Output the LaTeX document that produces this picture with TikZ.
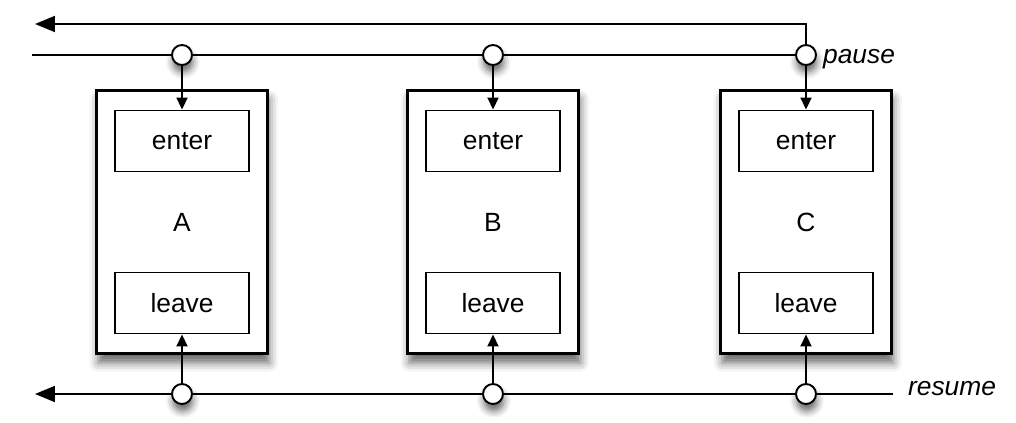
\documentclass[tikz,border=0pt]{standalone}
\usepackage{fontspec}
\setmainfont{Liberation Sans}
\usetikzlibrary{arrows.meta,positioning,backgrounds,shadows.blur}
\tikzset{
  proc/.style={
    rectangle,
    draw=black,
    line width=1.7pt,
    fill=white,
    minimum width=3.42cm,
    minimum height=5.28cm,
    blur shadow={shadow xshift=1pt, shadow yshift=-5pt, shadow blur radius=5pt, shadow opacity=60}
  },
  hook/.style={
    rectangle,
    draw=black,
    line width=1.1pt,
    fill=white,
    minimum width=2.68cm,
    minimum height=1.22cm
  },
  port/.style={
    circle,
    draw=black,
    line width=1.1pt,
    fill=white,
    minimum size=0.4cm,
    inner sep=0pt,
    blur shadow={shadow xshift=0.5pt, shadow yshift=-4pt, shadow blur radius=4pt, shadow opacity=60}
  },
  signal/.style={
    line width=1.1pt
  },
  bigarrow/.style={
    -{Triangle[length=0.4cm,width=0.32cm]},
    line width=1.1pt
  },
  arrow/.style={
    -{Triangle[length=0.24cm,width=0.22cm]},
    line width=1.1pt
  }
}
\begin{document}
\begin{tikzpicture}[x=0.02cm, y=-0.02cm, font=\fontsize{15}{17}\selectfont]
\useasboundingbox (0,0) rectangle (1016,422);

% the three components
\node[proc] (procA) at (182,222) {A};
\node[proc] (procB) at (493,222) {B};
\node[proc] (procC) at (806,222) {C};

\node[hook, below=0.42cm of procA.north] (enterA) {enter};
\node[hook, below=0.42cm of procB.north] (enterB) {enter};
\node[hook, below=0.42cm of procC.north] (enterC) {enter};

\node[hook, above=0.42cm of procA.south] (leaveA) {leave};
\node[hook, above=0.42cm of procB.south] (leaveB) {leave};
\node[hook, above=0.42cm of procC.south] (leaveC) {leave};

% ports on the signal lines
\node[port] (pauseA) at (182,55) {};
\node[port] (pauseB) at (493,55) {};
\node[port, label={[font=\fontsize{15}{17}\selectfont\itshape, yshift=-0.08cm]right:pause}] (pauseC) at (806,55) {};

\node[port] (resumeA) at (182,394) {};
\node[port] (resumeB) at (493,394) {};
\node[port] (resumeC) at (806,394) {};

\node[font=\fontsize{15}{17}\selectfont\itshape] (resumelbl) at (952,389) {resume};

\coordinate (pausein) at (32,55);
\coordinate (pauseout) at (35,24);
\coordinate (resumein) at (893,394);
\coordinate (resumeout) at (35,394);

\begin{scope}[on background layer]
\draw[signal] (pausein) -- (pauseC);
\draw[bigarrow] (pauseC.north) |- (pauseout);
\draw[bigarrow] (resumein) -- (resumeout);
\end{scope}

\draw[arrow] (pauseA) -- (enterA);
\draw[arrow] (pauseB) -- (enterB);
\draw[arrow] (pauseC) -- (enterC);

\draw[arrow] (resumeA) -- (leaveA);
\draw[arrow] (resumeB) -- (leaveB);
\draw[arrow] (resumeC) -- (leaveC);

\end{tikzpicture}
\end{document}
